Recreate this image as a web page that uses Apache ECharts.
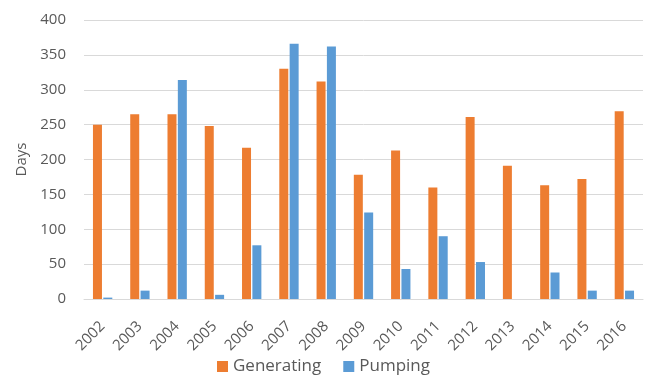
<!DOCTYPE html>
<html>
<head>
<meta charset="utf-8">
<script src="https://cdn.jsdelivr.net/npm/echarts@6/dist/echarts.min.js"></script>
<style>
  html, body { margin: 0; padding: 0; background: #fff; }
  #main { width: 647px; height: 381px; }
</style>
</head>
<body>
<div id="main"></div>
<script>
// years on x axis
var years = ['2002', '2003', '2004', '2005', '2006', '2007', '2008', '2009',
             '2010', '2011', '2012', '2013', '2014', '2015', '2016'];
// days per year
var generating = [250, 265, 265, 248, 217, 330, 312, 178, 213, 160, 261, 191, 163, 172, 269];
var pumping = [2, 12, 314, 6, 77, 366, 362, 124, 43, 90, 53, 0, 38, 12, 12];

var myChart = echarts.init(document.getElementById('main'));
var font = 'Open Sans, Liberation Sans, sans-serif';

var option = {
    animation: false,
    color: ['#ED7D31', '#5B9BD5'],
    grid: { left: 84, right: 4, top: 20, bottom: 82 },
    legend: {
        bottom: 1,
        left: 'center',
        itemWidth: 11,
        itemHeight: 11,
        itemGap: 22,
        icon: 'rect',
        textStyle: { color: '#595959', fontSize: 17, fontFamily: font },
        data: ['Generating', 'Pumping']
    },
    xAxis: {
        type: 'category',
        data: years,
        axisLine: { lineStyle: { color: '#D9D9D9' } },
        axisTick: { show: false },
        axisLabel: { color: '#595959', fontSize: 15, fontFamily: font, rotate: 45, margin: 25 }
    },
    yAxis: {
        type: 'value',
        min: 0,
        max: 400,
        interval: 50,
        name: 'Days',
        nameLocation: 'middle',
        nameGap: 54,
        nameTextStyle: { color: '#595959', fontSize: 15, fontFamily: font },
        axisLine: { show: false },
        axisTick: { show: false },
        axisLabel: { color: '#595959', fontSize: 15, fontFamily: font, margin: 18 },
        splitLine: { lineStyle: { color: '#D9D9D9' } }
    },
    series: [
        {
            name: 'Generating',
            type: 'bar',
            barWidth: 9,
            barGap: '15%',
            data: generating
        },
        {
            name: 'Pumping',
            type: 'bar',
            barWidth: 9,
            data: pumping
        }
    ]
};

myChart.setOption(option);
</script>
</body>
</html>
